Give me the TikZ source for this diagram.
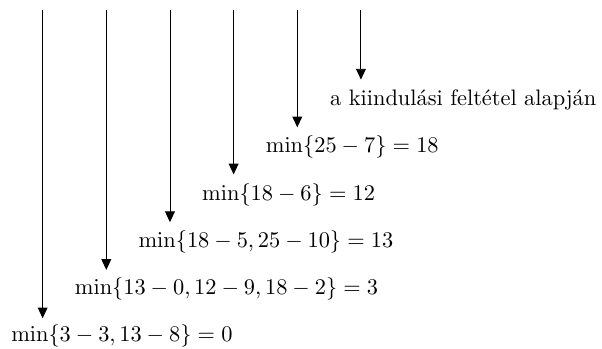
\documentclass[tikz,border=0pt]{standalone}
\usepackage{amsmath}
\usepackage{tikz}
\usetikzlibrary{arrows.meta,positioning}

\begin{document}
\begin{tikzpicture}[
  arr/.style={-{Triangle[length=4.8pt,width=4.4pt]},line width=0.4pt},
  lbl/.style={inner sep=0pt,anchor=north west}]
\useasboundingbox (0,0) rectangle (9.457,-5.482);
% arrow start points
\coordinate (t1) at (0.67,-0.15);
\coordinate (t2) at (1.67,-0.15);
\coordinate (t3) at (2.67,-0.15);
\coordinate (t4) at (3.67,-0.15);
\coordinate (t5) at (4.67,-0.15);
\coordinate (t6) at (5.67,-0.15);
% arrow tips
\coordinate (e1) at (0.67,-5.0);
\coordinate (e2) at (1.67,-4.24);
\coordinate (e3) at (2.67,-3.49);
\coordinate (e4) at (3.67,-2.74);
\coordinate (e5) at (4.67,-2.0);
\coordinate (e6) at (5.67,-1.25);
% labels
\node[lbl,below right=0.1cm and -0.5cm of e1] (l1) {$\min\{3-3,13-8\}=0$};
\node[lbl,below right=0.11cm and -0.5cm of e2] (l2) {$\min\{13-0,12-9,18-2\}=3$};
\node[lbl,below right=0.13cm and -0.5cm of e3] (l3) {$\min\{18-5,25-10\}=13$};
\node[lbl,below right=0.14cm and -0.5cm of e4] (l4) {$\min\{18-6\}=12$};
\node[lbl,below right=0.13cm and -0.5cm of e5] (l5) {$\min\{25-7\}=18$};
\node[lbl,below right=0.15cm and -0.49cm of e6] (l6) {a kiindulási feltétel alapján};
\draw[arr] (t1) -- (e1);
\draw[arr] (t2) -- (e2);
\draw[arr] (t3) -- (e3);
\draw[arr] (t4) -- (e4);
\draw[arr] (t5) -- (e5);
\draw[arr] (t6) -- (e6);
\end{tikzpicture}
\end{document}
